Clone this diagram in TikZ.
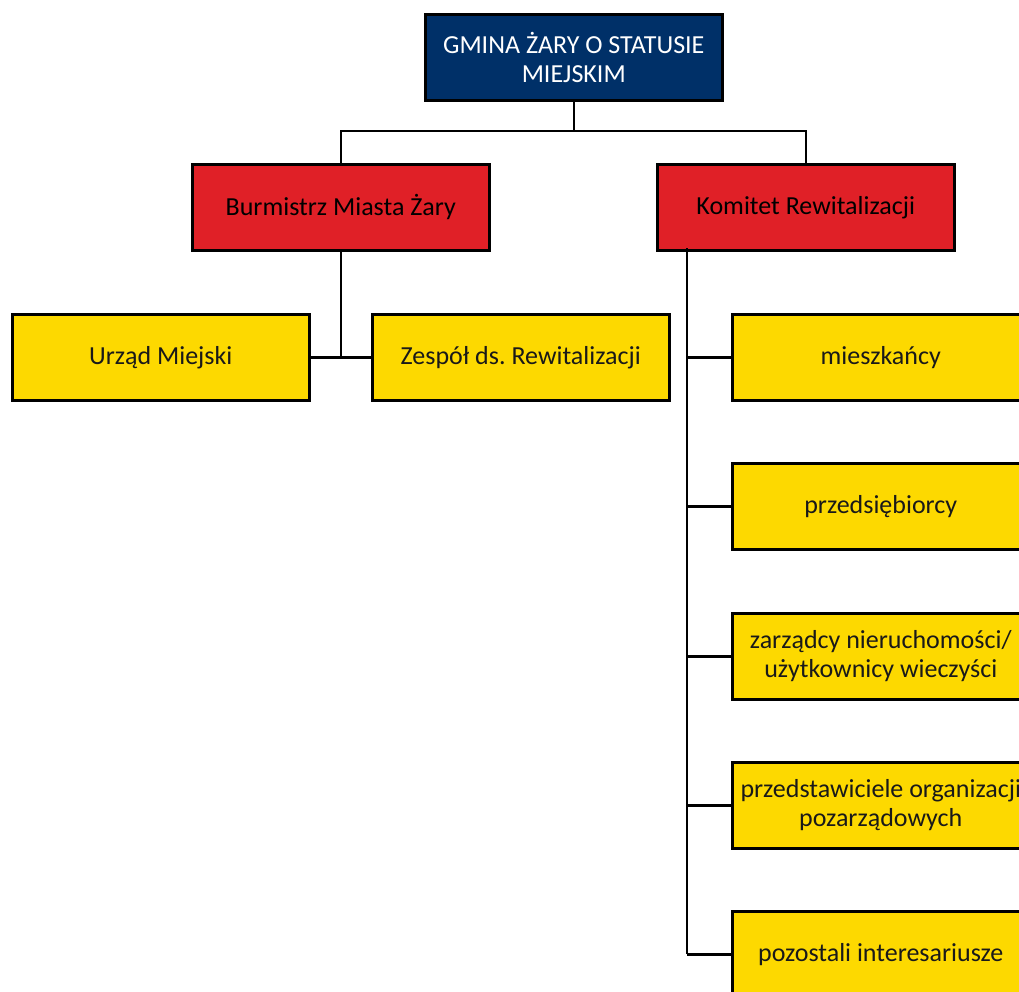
\documentclass[tikz,border=0pt]{standalone}
\usepackage{fontspec}
\setmainfont{Carlito}
\frenchspacing
\definecolor{navy}{HTML}{003068}
\definecolor{redbox}{HTML}{E02027}
\definecolor{yel}{HTML}{FDD900}
\begin{document}
\begin{tikzpicture}[x=1pt,y=-1pt,
  box/.style={draw=black,line width=2.5pt,minimum width=297pt,minimum height=86pt,inner sep=0pt,align=center,font=\fontsize{26}{29}\selectfont,anchor=north west},
  topbox/.style={box,fill=navy,text=white},
  redb/.style={box,fill=redbox,text=black},
  yelb/.style={box,fill=yel,text=black!90},
  conn/.style={line width=2.5pt}]
\useasboundingbox (0,0) rectangle (1019,991);
\clip (0,0) rectangle (1019,991);
\node[topbox] (gmina) at (424,13) {GMINA ŻARY O STATUSIE\\MIEJSKIM};
\node[redb] (burm) at (191,163) {Burmistrz Miasta Żary};
\node[redb] (kom) at (656,163) {Komitet Rewitalizacji};
\node[yelb] (urzad) at (11,313) {Urząd Miejski};
\node[yelb] (zesp) at (371,313) {Zespół ds. Rewitalizacji};
\node[yelb] (m1) at (731,313) {mieszkańcy};
\node[yelb] (m2) at (731,462) {przedsiębiorcy};
\node[yelb] (m3) at (731,612) {zarządcy nieruchomości/\\użytkownicy wieczyści};
\node[yelb] (m4) at (731,761) {przedstawiciele organizacji\\pozarządowych};
\node[yelb] (m5) at (731,910) {pozostali interesariusze};
\coordinate (j1) at (gmina.south |- 0,131);
\draw[conn] (gmina.south) -- (j1);
\draw[conn] (burm.north) |- (j1) -| (kom.north);
\coordinate (j2) at (burm.south |- urzad.east);
\draw[conn] (burm.south) -- (j2);
\draw[conn] (urzad.east) -- (zesp.west);
\coordinate (k0) at (687,249);
\coordinate (kend) at (687,953);
\draw[conn,line cap=rect] (k0) -- (kend);
\foreach \n in {m1,m2,m3,m4,m5}{
  \draw[conn] (\n.west) -- (687,0 |- \n.west);
}
\end{tikzpicture}
\end{document}
